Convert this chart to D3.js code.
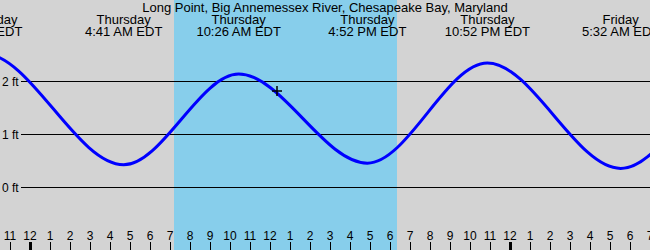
<!DOCTYPE html>
<html>
  <head>
    <meta charset="utf-8">
    <title>Long Point tides</title>
    <script src="https://d3js.org/d3.v7.min.js"></script>
    <style>
      body { margin: 0; }
      svg { display: block; font-family: "Liberation Sans", Arial, sans-serif; font-size: 12px; }
      .head { font-size: 13px; }
    </style>
  </head>
  <body>
    <svg id="chart" width="650" height="250"></svg>
    <script>
      // tide predictions (EDT, feet)
      var title = "Long Point, Big Annemessex River, Chesapeake Bay, Maryland";
      var tideTimes = ["2024-10-09 15:50", "2024-10-09 21:40", "2024-10-10 04:41", "2024-10-10 10:26",
                       "2024-10-10 16:52", "2024-10-10 22:52", "2024-10-11 05:32", "2024-10-11 11:40",
                       "2024-10-11 17:55"];
      var tideHeights = [0.4, 2.52, 0.42, 2.13, 0.45, 2.34, 0.35, 2.15, 0.45];
      var labelledTides = [1, 2, 3, 4, 5, 6];
      var daylight = ["2024-10-10 07:12", "2024-10-10 18:21"];
      var viewRange = ["2024-10-09 22:30", "2024-10-11 07:00"];
      var yTicks = [0, 1, 2];
      var nowTime = "2024-10-10 12:21";
      var nowHeight = 1.81;

      var parse = d3.utcParse("%Y-%m-%d %H:%M");
      var width = 650, height = 250;
      var svg = d3.select("#chart");

      var x = d3.scaleUtc()
        .domain(viewRange.map(parse))
        .range([0, width]);
      var y = d3.scaleLinear()
        .domain([0, 2])
        .range([187, 81]);

      svg.append("rect")
        .attr("width", width)
        .attr("height", height)
        .attr("fill", "#d3d3d3");

      // daylight band
      svg.append("rect")
        .attr("x", x(parse(daylight[0])))
        .attr("width", x(parse(daylight[1])) - x(parse(daylight[0])))
        .attr("height", height)
        .attr("fill", "#87ceeb");

      // height gridlines
      var grid = svg.selectAll(".grid")
          .data(yTicks)
        .enter().append("g")
          .attr("class", "grid")
          .attr("transform", function(d) { return "translate(0," + Math.round(y(d)) + ")"; });
      grid.append("line")
        .attr("x1", 21).attr("x2", width)
        .attr("y1", 0.5).attr("y2", 0.5)
        .attr("stroke", "#000");
      grid.append("text")
        .attr("x", 2)
        .attr("y", 5)
        .text(function(d) { return d + " ft"; });

      // tide curve
      var tides = tideTimes.map(function(t, i) { return { date: parse(t), ft: tideHeights[i] }; });
      var line = d3.line()
        .x(function(d) { return x(d.date); })
        .y(function(d) { return y(d.ft); })
        .curve(d3.curveMonotoneX);
      svg.append("path")
        .datum(tides)
        .attr("d", line)
        .attr("fill", "none")
        .attr("stroke", "#0000ff")
        .attr("stroke-width", 3);

      // current time marker
      svg.append("path")
        .attr("transform", "translate(" + x(parse(nowTime)) + "," + y(nowHeight) + ")")
        .attr("d", "M-5,0H5M0,-5V5")
        .attr("stroke", "#000")
        .attr("stroke-width", 1.5);

      // title and tide labels
      svg.append("text")
        .attr("class", "head")
        .attr("x", width / 2)
        .attr("y", 12)
        .attr("text-anchor", "middle")
        .text(title);
      var labels = svg.selectAll(".tideLabel")
          .data(labelledTides.map(function(i) { return tides[i]; }))
        .enter().append("text")
          .attr("class", "tideLabel head")
          .attr("text-anchor", "middle")
          .attr("transform", function(d) { return "translate(" + x(d.date) + ",0)"; });
      labels.append("tspan")
        .attr("x", 0).attr("y", 24)
        .text(function(d) { return d3.utcFormat("%A")(d.date); });
      labels.append("tspan")
        .attr("x", 0).attr("y", 36)
        .text(function(d) { return d3.utcFormat("%-I:%M %p")(d.date) + " EDT"; });

      // hour axis
      var hours = x.ticks(d3.utcHour.every(1));
      var xAxis = svg.append("g").attr("class", "hours");
      xAxis.selectAll("line")
          .data(hours)
        .enter().append("line")
          .attr("x1", function(d) { return Math.round(x(d)) + 0.5; })
          .attr("x2", function(d) { return Math.round(x(d)) + 0.5; })
          .attr("y1", 242).attr("y2", height)
          .attr("stroke", "#000")
          .attr("stroke-width", function(d) { return d.getUTCHours() == 0 ? 3 : 1; });
      xAxis.selectAll("text")
          .data(hours)
        .enter().append("text")
          .attr("x", function(d) { return x(d); })
          .attr("y", 240)
          .attr("text-anchor", "middle")
          .text(function(d) { return d3.utcFormat("%-I")(d); });
    </script>
  </body>
</html>
